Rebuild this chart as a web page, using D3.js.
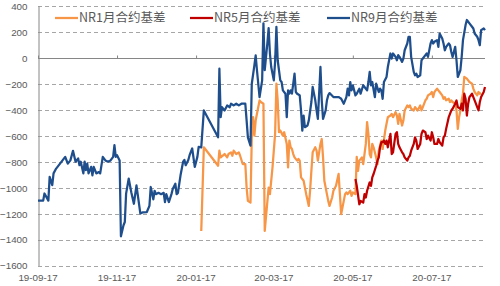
<!DOCTYPE html>
<meta charset="utf-8">
<script src="https://d3js.org/d3.v7.min.js"></script>
<style>
body { margin:0; background:#fff; }
svg { display:block; }
.tick-label { font-family:"Liberation Sans", Arial, sans-serif; font-size:9.8px; fill:#595959; }
.legend-text { font-family:"Noto Sans CJK SC", "Noto Sans", sans-serif; font-size:12.5px; fill:#595959; }
</style>
<body>
<script>
// values
var seriesNames = ["NR1月合约基差", "NR5月合约基差", "NR9月合约基差"];
var seriesColors = ["#F79646", "#C00000", "#1F4E8C"];
var yTicks = [400, 200, 0, -200, -400, -600, -800, -1000, -1200, -1400, -1600];
var xTickDates = ["2019-09-17", "2019-11-17", "2020-01-17", "2020-03-17", "2020-05-17", "2020-07-17"];

var nr1 = [
  ["2020-01-21",-1334],["2020-01-23",-689],["2020-02-03",-831],["2020-02-04",-715],["2020-02-05",-767],
  ["2020-02-08",-741],["2020-02-10",-767],["2020-02-11",-741],["2020-02-13",-728],["2020-02-14",-754],
  ["2020-02-15",-715],["2020-02-17",-741],["2020-02-19",-728],["2020-02-20",-754],["2020-02-22",-818],
  ["2020-02-24",-818],["2020-02-25",-999],["2020-02-26",-1102],["2020-02-28",-1115],["2020-02-29",-612],
  ["2020-03-01",-457],["2020-03-02",-599],["2020-03-03",-483],["2020-03-04",-431],["2020-03-06",-328],
  ["2020-03-07",-340],["2020-03-09",-353],["2020-03-10",-1334],["2020-03-13",-999],["2020-03-14",-1050],
  ["2020-03-16",-844],["2020-03-18",-586],["2020-03-19",-199],["2020-03-20",-328],["2020-03-21",-573],
  ["2020-03-22",-560],["2020-03-24",-599],["2020-03-25",-573],["2020-03-27",-663],["2020-03-28",-844],
  ["2020-03-29",-637],["2020-03-30",-689],["2020-03-31",-702],["2020-04-01",-741],["2020-04-02",-767],
  ["2020-04-04",-792],["2020-04-05",-779],["2020-04-06",-792],["2020-04-07",-921],["2020-04-09",-947],
  ["2020-04-10",-999],["2020-04-11",-1050],["2020-04-13",-1141],["2020-04-14",-1024],["2020-04-15",-870],
  ["2020-04-16",-728],["2020-04-18",-689],["2020-04-19",-715],["2020-04-20",-792],["2020-04-22",-663],
  ["2020-04-23",-625],["2020-04-24",-767],["2020-04-25",-947],["2020-04-27",-1050],["2020-04-28",-1102],
  ["2020-04-29",-1141],["2020-05-01",-1076],["2020-05-02",-1024],["2020-05-04",-986],["2020-05-06",-894],
  ["2020-05-07",-1050],["2020-05-08",-1204],["2020-05-10",-1102],["2020-05-11",-1050],["2020-05-12",-1037],
  ["2020-05-13",-1050],["2020-05-15",-1024],["2020-05-16",-1063],["2020-05-17",-1037],["2020-05-19",-1050],
  ["2020-05-20",-763],["2020-05-21",-870],["2020-05-22",-792],["2020-05-24",-767],["2020-05-25",-818],
  ["2020-05-26",-741],["2020-05-27",-663],["2020-05-28",-495],["2020-05-29",-586],["2020-05-30",-741],
  ["2020-05-31",-767],["2020-06-01",-663],["2020-06-02",-689],["2020-06-04",-767],["2020-06-05",-818],
  ["2020-06-06",-715],["2020-06-08",-637],["2020-06-09",-702],["2020-06-11",-560],["2020-06-12",-508],
  ["2020-06-13",-457],["2020-06-15",-444],["2020-06-16",-431],["2020-06-17",-457],["2020-06-19",-418],
  ["2020-06-20",-444],["2020-06-21",-508],["2020-06-22",-431],["2020-06-24",-521],["2020-06-25",-483],
  ["2020-06-26",-405],["2020-06-28",-366],["2020-06-29",-379],["2020-06-30",-366],["2020-07-01",-392],
  ["2020-07-03",-405],["2020-07-04",-379],["2020-07-05",-392],["2020-07-06",-405],["2020-07-08",-366],
  ["2020-07-09",-405],["2020-07-10",-379],["2020-07-12",-327],["2020-07-13",-315],["2020-07-14",-289],
  ["2020-07-16",-276],["2020-07-17",-263],["2020-07-18",-302],["2020-07-19",-263],["2020-07-21",-237],
  ["2020-07-22",-250],["2020-07-23",-263],["2020-07-25",-289],["2020-07-26",-315],["2020-07-27",-302],
  ["2020-07-28",-327],["2020-07-30",-315],["2020-07-31",-340],["2020-08-01",-327],["2020-08-02",-340],
  ["2020-08-04",-353],["2020-08-05",-405],["2020-08-06",-547],["2020-08-07",-457],["2020-08-08",-405],
  ["2020-08-09",-327],["2020-08-10",-276],["2020-08-11",-147],["2020-08-13",-160],["2020-08-14",-173],
  ["2020-08-15",-186],["2020-08-17",-199],["2020-08-18",-237],["2020-08-19",-263],["2020-08-21",-289],
  ["2020-08-22",-263],["2020-08-23",-276],["2020-08-24",-270]
];

var nr5 = [
  ["2020-05-19",-934],["2020-05-20",-986],["2020-05-22",-1128],["2020-05-23",-1102],["2020-05-25",-1115],
  ["2020-05-26",-1050],["2020-05-27",-1076],["2020-05-28",-1024],["2020-05-30",-960],["2020-05-31",-986],
  ["2020-06-01",-921],["2020-06-02",-895],["2020-06-04",-831],["2020-06-05",-792],["2020-06-06",-766],
  ["2020-06-07",-689],["2020-06-08",-650],["2020-06-09",-650],["2020-06-10",-637],["2020-06-11",-663],
  ["2020-06-12",-637],["2020-06-13",-689],["2020-06-15",-586],["2020-06-16",-741],["2020-06-17",-728],
  ["2020-06-19",-586],["2020-06-20",-573],["2020-06-21",-663],["2020-06-22",-689],["2020-06-24",-728],
  ["2020-06-25",-741],["2020-06-26",-767],["2020-06-28",-792],["2020-06-29",-767],["2020-06-30",-754],
  ["2020-07-01",-715],["2020-07-03",-663],["2020-07-04",-612],["2020-07-05",-637],["2020-07-06",-702],
  ["2020-07-08",-663],["2020-07-09",-586],["2020-07-10",-560],["2020-07-12",-573],["2020-07-13",-625],
  ["2020-07-14",-599],["2020-07-16",-637],["2020-07-17",-573],["2020-07-18",-612],["2020-07-19",-663],
  ["2020-07-21",-663],["2020-07-22",-625],["2020-07-23",-650],["2020-07-25",-676],["2020-07-26",-612],
  ["2020-07-27",-599],["2020-07-28",-547],["2020-07-30",-457],["2020-07-31",-431],["2020-08-01",-405],
  ["2020-08-02",-392],["2020-08-04",-353],["2020-08-05",-328],["2020-08-06",-379],["2020-08-08",-392],
  ["2020-08-09",-353],["2020-08-10",-405],["2020-08-11",-276],["2020-08-12",-315],["2020-08-13",-444],
  ["2020-08-14",-353],["2020-08-15",-302],["2020-08-17",-276],["2020-08-18",-302],["2020-08-19",-328],
  ["2020-08-21",-379],["2020-08-22",-405],["2020-08-23",-340],["2020-08-24",-302],["2020-08-26",-263],
  ["2020-08-27",-224]
];

var nr9 = [
  ["2019-09-17",-1100],["2019-09-21",-1100],["2019-09-22",-1045],["2019-09-25",-1100],["2019-09-26",-917],
  ["2019-09-28",-980],["2019-09-29",-890],["2019-10-01",-853],["2019-10-04",-815],["2019-10-08",-763],
  ["2019-10-10",-815],["2019-10-12",-790],["2019-10-14",-716],["2019-10-16",-800],["2019-10-18",-775],
  ["2019-10-19",-827],["2019-10-20",-800],["2019-10-22",-890],["2019-10-23",-800],["2019-10-24",-865],
  ["2019-10-25",-815],["2019-10-26",-890],["2019-10-28",-840],["2019-10-29",-905],["2019-10-30",-840],
  ["2019-11-01",-890],["2019-11-03",-880],["2019-11-04",-890],["2019-11-06",-763],["2019-11-08",-790],
  ["2019-11-10",-800],["2019-11-12",-790],["2019-11-14",-763],["2019-11-15",-672],["2019-11-16",-763],
  ["2019-11-17",-750],["2019-11-19",-790],["2019-11-20",-1375],["2019-11-22",-1290],["2019-11-23",-1265],
  ["2019-11-24",-1046],["2019-11-26",-930],["2019-11-28",-1035],["2019-11-30",-1124],["2019-12-02",-982],
  ["2019-12-05",-1200],["2019-12-07",-1190],["2019-12-10",-1188],["2019-12-12",-1140],["2019-12-13",-995],
  ["2019-12-15",-1090],["2019-12-16",-1024],["2019-12-17",-1050],["2019-12-19",-1040],["2019-12-21",-1050],
  ["2019-12-23",-1040],["2019-12-24",-1111],["2019-12-25",-1050],["2019-12-27",-1111],["2019-12-29",-1050],
  ["2019-12-30",-1010],["2020-01-01",-970],["2020-01-02",-1050],["2020-01-03",-1040],["2020-01-05",-905],
  ["2020-01-07",-800],["2020-01-08",-787],["2020-01-09",-827],["2020-01-11",-787],["2020-01-12",-750],
  ["2020-01-14",-698],["2020-01-16",-840],["2020-01-18",-763],["2020-01-19",-685],["2020-01-21",-690],
  ["2020-01-23",-405],["2020-02-03",-612],["2020-02-04",-83],["2020-02-05",-457],["2020-02-06",-380],
  ["2020-02-08",-405],["2020-02-10",-366],["2020-02-12",-380],["2020-02-13",-353],["2020-02-15",-366],
  ["2020-02-17",-353],["2020-02-19",-366],["2020-02-21",-353],["2020-02-24",-353],["2020-02-25",-482],
  ["2020-02-26",-612],["2020-02-28",-676],["2020-02-29",-199],["2020-03-02",-57],["2020-03-03",20],
  ["2020-03-04",-95],["2020-03-06",-302],["2020-03-08",-173],["2020-03-09",266],["2020-03-10",-95],
  ["2020-03-12",111],["2020-03-13",230],["2020-03-14",34],["2020-03-15",-70],["2020-03-17",-173],
  ["2020-03-18",-31],["2020-03-19",240],["2020-03-20",-18],["2020-03-22",-173],["2020-03-23",-186],
  ["2020-03-24",-250],["2020-03-26",-276],["2020-03-27",-457],["2020-03-28",-250],["2020-03-29",-276],
  ["2020-03-30",-250],["2020-03-31",-276],["2020-04-02",-121],["2020-04-03",-263],["2020-04-04",-276],
  ["2020-04-05",-282],["2020-04-06",-289],["2020-04-07",-405],["2020-04-08",-560],["2020-04-09",-444],
  ["2020-04-10",-534],["2020-04-12",-521],["2020-04-13",-483],["2020-04-15",-340],["2020-04-16",-224],
  ["2020-04-18",-327],["2020-04-19",-405],["2020-04-20",-470],["2020-04-22",-70],["2020-04-23",-327],
  ["2020-04-24",-470],["2020-04-26",-405],["2020-04-27",-327],["2020-04-28",-289],["2020-04-29",-271],
  ["2020-05-02",-302],["2020-05-04",-302],["2020-05-06",-302],["2020-05-07",-308],["2020-05-08",-315],
  ["2020-05-10",-353],["2020-05-12",-302],["2020-05-13",-237],["2020-05-14",-289],["2020-05-15",-186],
  ["2020-05-16",-250],["2020-05-17",-211],["2020-05-19",-289],["2020-05-20",-276],["2020-05-22",-237],
  ["2020-05-23",-276],["2020-05-25",-211],["2020-05-26",-224],["2020-05-28",-250],["2020-05-29",-186],
  ["2020-05-30",-108],["2020-05-31",-211],["2020-06-01",-186],["2020-06-03",-302],["2020-06-04",-199],
  ["2020-06-06",-263],["2020-06-07",-237],["2020-06-08",-250],["2020-06-09",-315],["2020-06-10",-186],
  ["2020-06-12",-147],["2020-06-13",-70],["2020-06-15",34],["2020-06-16",-5],["2020-06-17",34],
  ["2020-06-19",8],["2020-06-20",-18],["2020-06-21",21],["2020-06-22",8],["2020-06-24",-31],
  ["2020-06-25",-5],["2020-06-26",59],["2020-06-28",111],["2020-06-29",163],["2020-06-30",163],
  ["2020-07-01",8],["2020-07-03",-108],["2020-07-04",-134],["2020-07-05",-121],["2020-07-06",-147],
  ["2020-07-08",-134],["2020-07-09",-18],["2020-07-10",-5],["2020-07-12",21],["2020-07-13",34],
  ["2020-07-14",8],["2020-07-16",111],["2020-07-17",137],["2020-07-18",111],["2020-07-19",124],
  ["2020-07-21",137],["2020-07-22",85],["2020-07-23",188],["2020-07-25",150],["2020-07-26",111],
  ["2020-07-27",59],["2020-07-28",85],["2020-07-30",111],["2020-07-31",98],["2020-08-01",46],
  ["2020-08-02",8],["2020-08-04",85],["2020-08-05",-18],["2020-08-06",-147],["2020-08-08",-95],
  ["2020-08-09",8],["2020-08-10",137],["2020-08-12",253],["2020-08-13",292],["2020-08-14",279],
  ["2020-08-15",266],["2020-08-17",240],["2020-08-18",227],["2020-08-19",188],["2020-08-21",163],
  ["2020-08-22",137],["2020-08-23",98],["2020-08-24",214],["2020-08-26",227],["2020-08-27",214]
];

var parseDate = d3.timeParse("%Y-%m-%d");
var fmt = d3.timeFormat("%y-%m-%d");

var width = 500, height = 286;
var plot = {left: 38, right: 485, top: 6, bottom: 265.5};

var svg = d3.select("body").append("svg")
  .attr("width", width)
  .attr("height", height);

var x = d3.scaleTime()
  .domain([parseDate("2019-09-17"), parseDate("2020-08-27")])
  .range([plot.left, plot.right]);

var y = d3.scaleLinear()
  .domain([-1600, 400])
  .range([plot.bottom, plot.top]);

// gridlines
svg.append("g")
  .selectAll("line")
  .data(yTicks.filter(function(d) { return d !== 0; }))
  .enter().append("line")
  .attr("x1", plot.left)
  .attr("x2", plot.right)
  .attr("y1", function(d) { return Math.round(y(d)) + 0.5; })
  .attr("y2", function(d) { return Math.round(y(d)) + 0.5; })
  .attr("stroke", "#A6A6A6")
  .attr("stroke-dasharray", "4,3");

// y axis (plain integers, no thousands comma)
var yAxis = d3.axisLeft(y).tickValues(yTicks).tickFormat(d3.format("d")).tickSize(0).tickPadding(11);
var gy = svg.append("g")
  .attr("transform", "translate(" + (plot.left + 0.5) + ",0)")
  .call(yAxis);
gy.select(".domain").attr("stroke", "#868686");
gy.selectAll("text").attr("class", "tick-label").attr("dy", "0.35em");

// zero axis with small ticks
var y0 = Math.round(y(0)) + 0.5;
var xTicks = xTickDates.map(parseDate);
var xAxis = d3.axisTop(x).tickValues(xTicks).tickSize(3).tickFormat("");
var gx = svg.append("g")
  .attr("transform", "translate(0," + y0 + ")")
  .call(xAxis);
gx.select(".domain").attr("d", "M" + plot.left + ",0H" + plot.right).attr("stroke", "#868686");
gx.selectAll(".tick line").attr("stroke", "#868686");

// x labels at the bottom
svg.append("g")
  .selectAll("text")
  .data(xTicks)
  .enter().append("text")
  .attr("class", "tick-label")
  .attr("x", function(d) { return x(d); })
  .attr("y", 281)
  .attr("text-anchor", "middle")
  .text(function(d) { return fmt(d); });

// lines
var line = d3.line()
  .x(function(d) { return x(parseDate(d[0])); })
  .y(function(d) { return y(d[1]); });

var allSeries = [nr1, nr5, nr9];
svg.append("g")
  .selectAll("path")
  .data(allSeries)
  .enter().append("path")
  .attr("d", line)
  .attr("fill", "none")
  .attr("stroke", function(d, i) { return seriesColors[i]; })
  .attr("stroke-width", 2.25)
  .attr("stroke-linejoin", "round");

// legend
var legendX = [55, 190, 327];
var lg = svg.append("g")
  .selectAll("g")
  .data(seriesNames)
  .enter().append("g")
  .attr("transform", function(d, i) { return "translate(" + legendX[i] + ",18)"; });

lg.append("line")
  .attr("x1", 0).attr("x2", 23)
  .attr("stroke", function(d, i) { return seriesColors[i]; })
  .attr("stroke-width", 2.25);

lg.append("text")
  .attr("class", "legend-text")
  .attr("x", 24)
  .attr("dy", "0.35em")
  .text(function(d) { return d; });
</script>
</body>
